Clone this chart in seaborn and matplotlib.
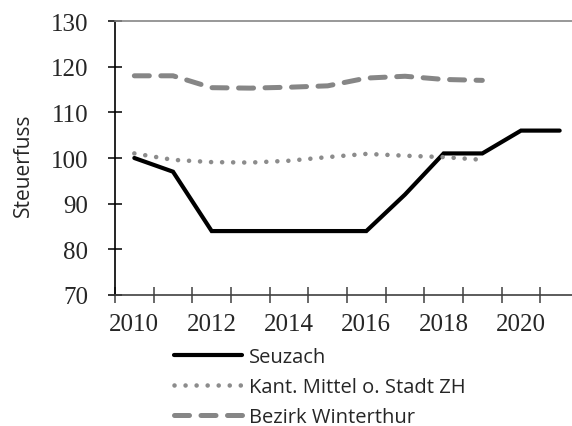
import numpy as np
import pandas as pd
import matplotlib
matplotlib.use('Agg')
import matplotlib.pyplot as plt
import seaborn as sns

sns.set_style('ticks')
plt.rcParams['font.family'] = ['Open Sans', 'DejaVu Sans']

# data
years_seuzach = [2010, 2011, 2012, 2013, 2014, 2015, 2016, 2017, 2018, 2019, 2020, 2021]
seuzach = [100, 97, 84, 84, 84, 84, 84, 92, 101, 101, 106, 106]

years_avg = [2010, 2011, 2012, 2013, 2014, 2015, 2016, 2017, 2018, 2019]
kant_mittel = [101, 99.6, 99.1, 99.0, 99.4, 100.2, 100.9, 100.5, 100.2, 99.6]
bezirk = [118, 118, 115.4, 115.3, 115.5, 115.8, 117.5, 117.9, 117.2, 117]

tick_years = [2010, 2012, 2014, 2016, 2018, 2020]
y_ticks = [70, 80, 90, 100, 110, 120, 130]

df_s = pd.DataFrame({'Jahr': years_seuzach, 'Steuerfuss': seuzach})
df_k = pd.DataFrame({'Jahr': years_avg, 'Steuerfuss': kant_mittel})
df_b = pd.DataFrame({'Jahr': years_avg, 'Steuerfuss': bezirk})

DOTS = (0, (0.01, 2.4))
DASHES = (0, (3.0, 2.3))

fig = plt.figure(figsize=(5.72, 4.27), dpi=100)
ax = fig.add_axes([115 / 572, 131 / 427, 464 / 572, 274 / 427])

sns.lineplot(data=df_s, x='Jahr', y='Steuerfuss', ax=ax, color='black', lw=3.0,
             label='Seuzach', solid_joinstyle='miter', solid_capstyle='round')
sns.lineplot(data=df_k, x='Jahr', y='Steuerfuss', ax=ax, color='#8c8c8c', lw=3.3,
             label='Kant. Mittel o. Stadt ZH')
sns.lineplot(data=df_b, x='Jahr', y='Steuerfuss', ax=ax, color='#868686', lw=3.6,
             label='Bezirk Winterthur')

lines = ax.get_lines()
lines[1].set_linestyle(DOTS)
lines[1].set_dash_capstyle('round')
lines[2].set_linestyle(DASHES)
lines[2].set_dash_capstyle('round')

ax.set_xlim(2009.5, 2021.5)
ax.set_ylim(70, 130)
ax.set_xticks(tick_years)
ax.set_xticks(np.arange(2009.5, 2022, 1), minor=True)
ax.set_yticks(y_ticks)
ax.tick_params(axis='x', which='major', length=0, pad=13, labelsize=18)
ax.tick_params(axis='x', which='minor', bottom=True, direction='inout', length=11, width=1.1, color='#404040')
ax.tick_params(axis='y', direction='inout', length=10.5, width=1.1, color='black', pad=14, labelsize=18, left=True)
for lab in ax.get_xticklabels() + ax.get_yticklabels():
    lab.set_fontfamily('Liberation Serif')

for side in ['left', 'bottom', 'top']:
    ax.spines[side].set_visible(True)
    ax.spines[side].set_linewidth(1.2)
ax.spines['left'].set_color('black')
ax.spines['bottom'].set_color('#404040')
ax.spines['top'].set_color('#868686')
ax.spines['right'].set_visible(False)

ax.set_xlabel('')
ax.set_ylabel('Steuerfuss', fontsize=15)
ax.yaxis.set_label_coords(-0.175, 0.478)

leg = ax.legend(loc='upper left', bbox_to_anchor=(174 / 572, 1 - 348 / 427),
                bbox_transform=fig.transFigure, frameon=False, fontsize=14.5,
                handlelength=3.4, handletextpad=0.3, borderpad=0, borderaxespad=0,
                labelspacing=0.5)
leg_lines = leg.get_lines()
leg_lines[1].set_linestyle(DOTS)
leg_lines[1].set_dash_capstyle('round')
leg_lines[2].set_linestyle(DASHES)
leg_lines[2].set_dash_capstyle('round')

fig.savefig('out.png', dpi=100)
